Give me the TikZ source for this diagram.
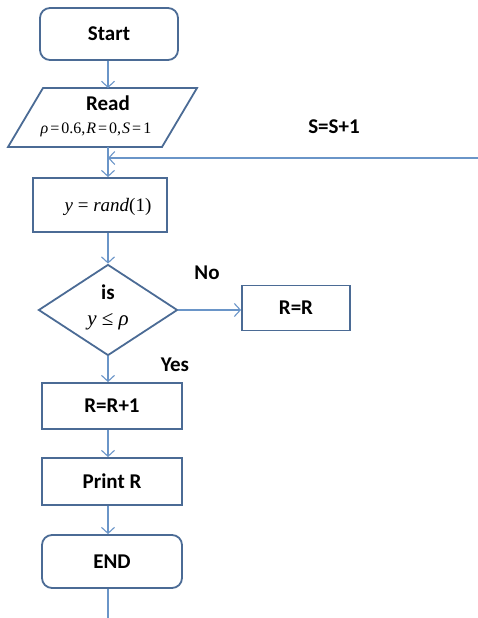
\documentclass[tikz,border=0pt]{standalone}
\usepackage{fontspec}
\setmainfont{Carlito}
\newfontfamily\mathserif{Liberation Serif}
\usetikzlibrary{arrows.meta,shapes.geometric}
\definecolor{boxline}{HTML}{4B6B95}
\definecolor{flowline}{HTML}{6A95C8}
\newcommand{\mv}[1]{{\itshape #1}}
\tikzset{
  boxbase/.style={draw=boxline, line width=1.8pt, inner sep=0pt, font=\fontsize{21}{24}\selectfont\bfseries},
  term/.style={boxbase, rounded corners=10pt, minimum width=138pt, minimum height=52pt},
  proc/.style={boxbase, rectangle, minimum width=140pt, minimum height=46pt},
  decide/.style={boxbase, diamond, minimum width=139pt, minimum height=91pt, aspect=1.53},
  flow/.style={draw=flowline, line width=1.1pt},
  arr/.style={flow, -{Straight Barb[length=6pt,width=13pt,line width=1.1pt]}},
  lbl/.style={font=\fontsize{21}{24}\selectfont\bfseries, inner sep=0pt},
  mth/.style={font=\mathserif\fontsize{19}{22}\selectfont, inner sep=0pt}
}
\begin{document}
\begin{tikzpicture}[x=1pt,y=-1pt]
\useasboundingbox (0,0) rectangle (478,618);

% terminals and process boxes
\node[term] (start) at (109,34) {Start};
\node[proc, minimum width=134pt, minimum height=54pt] (rand) at (100,205) {};
\node[mth] (randtxt) at (108,207) {\mv{y} = \mv{rand}(1)};
\node[decide] (test) at (108,310) {};
\node[lbl] (istxt) at (108,292) {is};
\node[mth, font=\mathserif\fontsize{21}{24}\selectfont] (cond) at (108,322) {\mv{y} ≤ \mv{ρ}};
\node[proc, minimum width=108pt, minimum height=45pt] (same) at (296,308) {R=R};
\node[proc] (incr) at (112,406) {R=R+1};
\node[proc, minimum height=47pt] (print) at (112,481.5) {Print R};
\node[term, minimum width=140pt, minimum height=53pt] (finish) at (112,561.5) {END};

% input parallelogram
\draw[draw=boxline, line width=1.8pt] (43,88) -- (197,88) -- (162,147) -- (8,147) -- cycle;
\coordinate (readtop) at (108,88);
\coordinate (readbot) at (108,147);
\node[lbl] (readtxt) at (108,103) {Read};
\node[mth, font=\mathserif\fontsize{16}{18}\selectfont] (readvals) at (96,130)
  {\mv{ρ}\kern2pt=\kern2pt0.6,\kern1pt\mv{R}\kern2pt=\kern2pt0,\kern1pt\mv{S}\kern2pt=\kern2pt1};

% loop-back line and its label
\coordinate (loopin) at (478,158);
\coordinate (bottom) at (108,618);
\node[lbl] (looplbl) at (334,127) {S=S+1};

% connectors
\draw[arr] (readtop |- start.south) -- (readtop);
\draw[arr] (readbot) -- (readbot |- rand.north);
\draw[arr] (loopin) -- (loopin -| readbot);
\draw[arr] (readbot |- rand.south) -- (test.north);
\draw[arr] (test.east) -- (test.east -| same.west);
\draw[arr] (test.south) -- (test.south |- incr.north);
\draw[arr] (test.south |- incr.south) -- (test.south |- print.north);
\draw[arr] (test.south |- print.south) -- (test.south |- finish.north);
\draw[flow] (test.south |- finish.south) -- (bottom);

% branch labels
\node[lbl] (nolbl) at (207,273) {No};
\node[lbl] (yeslbl) at (175,365) {Yes};
\end{tikzpicture}
\end{document}
